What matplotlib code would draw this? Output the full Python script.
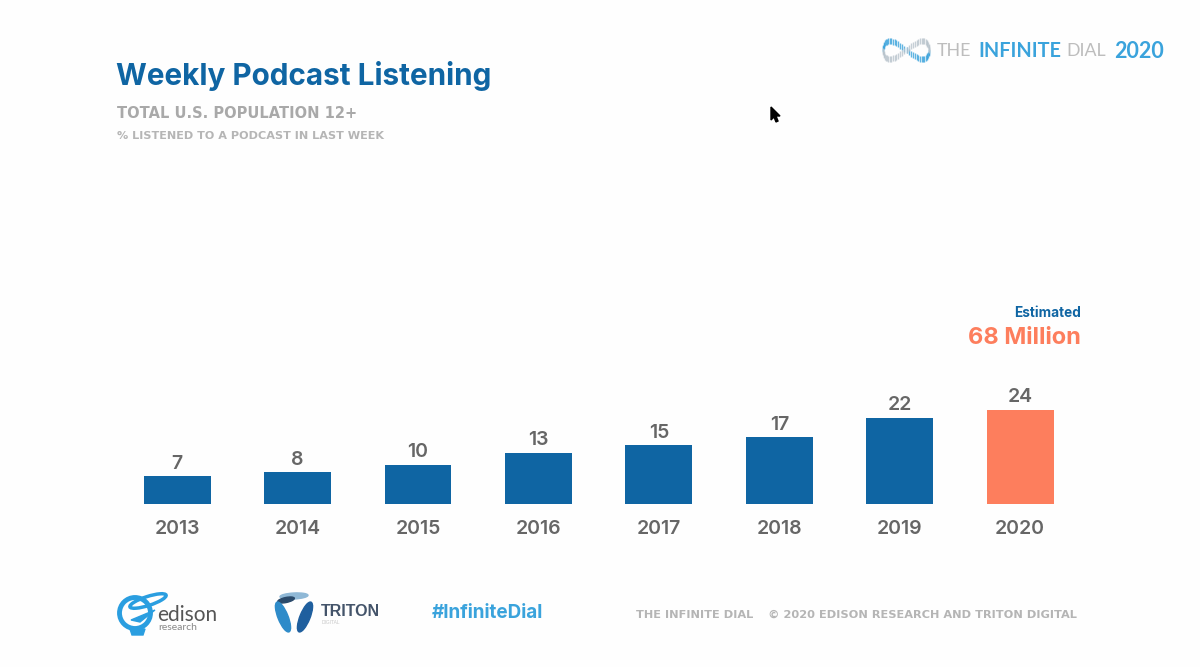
import numpy as np
import matplotlib
matplotlib.use("Agg")
import matplotlib.pyplot as plt
from matplotlib.patches import Ellipse, Circle, Polygon

years = ["2013", "2014", "2015", "2016", "2017", "2018", "2019", "2020"]
values = [7, 8, 10, 13, 15, 17, 22, 24]
blue = "#0f65a3"
orange = "#fd7e5d"
bar_colors = [blue] * 7 + [orange]
grey = "#a9a9a9"
light_blue = "#3aa3dc"
W, H = 1200, 667

plt.rcParams["font.family"] = ["Inter", "DejaVu Sans"]
fig = plt.figure(figsize=(12, 6.67), dpi=100, facecolor="#fefefe")

# bar axes, placed to line up with the slide
left, right, base, top = 117.0, 1080.4, 503.5, 386.5
ax = fig.add_axes([left / W, 1 - base / H, (right - left) / W, (base - top) / H])
ax.patch.set_alpha(0)
ax.bar(range(len(years)), values, width=0.555, color=bar_colors)
ax.set_xlim(-0.5, 7.5)
ax.set_ylim(0, 30)
ax.set_yticks([])
ax.set_xticks(range(len(years)))
ax.set_xticklabels(years, fontsize=14, fontweight="semibold", color="#666666")
ax.tick_params(axis="x", length=0, pad=12)
for s in ax.spines.values():
    s.set_visible(False)
for i, v in enumerate(values):
    ax.annotate(str(v), (i, v), xytext=(0, 2.5), textcoords="offset points", ha="center",
                va="bottom", fontsize=14, fontweight="semibold", color="#666666")

# overlay in pixel coords for slide text and logos
ov = fig.add_axes([0, 0, 1, 1], zorder=-1)
ov.set_xlim(0, W)
ov.set_ylim(H, 0)
ov.axis("off")

ov.text(116, 76, "Weekly Podcast Listening", fontsize=21.4, fontweight="bold", color=blue, va="center")
ov.text(117, 113, "TOTAL U.S. POPULATION 12+", fontsize=10.5, fontweight="bold", color=grey,
        family="DejaVu Sans", va="center")
ov.text(117, 136, "% LISTENED TO A PODCAST IN LAST WEEK", fontsize=8.1, fontweight="bold", color="#b5b5b5",
        family="DejaVu Sans", va="center")
ov.text(1081, 313, "Estimated", fontsize=9.8, fontweight="bold", color=blue, ha="right", va="center")
ov.text(1081, 338, "68 Million", fontsize=17, fontweight="bold", color=orange, ha="right", va="center")

# top right logo
t = np.linspace(0, 2 * np.pi, 70)
ox = 906 + 23 * np.cos(t)
oy = 50 + 9 * np.sin(2 * t)
ov.vlines(ox, oy - 3, oy + 3, color=[light_blue if np.sin(a) > 0 else "#b9c4cc" for a in t], lw=1, alpha=0.8)
ov.text(937, 51, "THE", fontsize=12.8, color="#bdbdbd", va="center", family="Lato")
ov.text(978, 51, "INFINITE", fontsize=14.3, color=light_blue, fontweight="bold", va="center", family="Lato")
ov.text(1066, 51, "DIAL", fontsize=12.8, color="#bdbdbd", va="center", family="Lato")
ov.text(1164, 51, "2020", fontsize=15.5, color=light_blue, fontweight="bold", va="center", ha="right", family="Lato")

# cursor
ov.add_patch(Polygon([(771, 107), (771, 120), (774, 117), (776, 122), (778, 121), (776, 116), (780, 116)],
                     closed=True, color="black"))

# edison logo
ov.add_patch(Circle((135, 613), 15.5, fill=False, ec="#2a9ee0", lw=3.5))
ov.add_patch(Ellipse((148, 601), 38, 9, angle=-18, fill=False, ec="#2a9ee0", lw=2.5))
ov.add_patch(Polygon([(131, 620), (155, 610), (140, 622)], closed=True, color="#2a9ee0"))
ov.add_patch(Polygon([(130, 629), (145, 629), (143, 635), (132, 635)], closed=True, color="#2a9ee0"))
ov.text(157, 615, "edison", fontsize=15, color="#555555", va="center", family="Lato")
ov.text(158, 628, "research", fontsize=7.5, color="#888888", va="center", family="Lato")

# triton logo
ov.add_patch(Ellipse((294, 596), 28, 6, angle=-3, color="#8fb8d6"))
ov.add_patch(Ellipse((286, 600), 17, 5, angle=-12, color="#2a4a6b"))
ov.add_patch(Ellipse((283, 617), 10, 32, angle=-22, color="#2e8bc9"))
ov.add_patch(Ellipse((305, 617), 10, 32, angle=22, color="#1f5f9e"))
ov.text(321, 612, "TRITON", fontsize=11.5, fontweight="bold", color="#44546a", va="center", family="Liberation Sans")
ov.text(322, 623, "DIGITAL", fontsize=3.5, color="#c8c8c8", va="center", family="Liberation Sans")

ov.text(432, 613, "#InfiniteDial", fontsize=13.6, fontweight="bold", color=light_blue, va="center")

ov.text(636, 615, "THE INFINITE DIAL", fontsize=8.2, fontweight="bold", color="#b5b5b5", family="DejaVu Sans", va="center")
ov.text(1077, 615, "© 2020 EDISON RESEARCH AND TRITON DIGITAL", fontsize=8.2, fontweight="bold", color="#b5b5b5",
        family="DejaVu Sans", va="center", ha="right")

fig.savefig("out.png", dpi=100, facecolor=fig.get_facecolor())
